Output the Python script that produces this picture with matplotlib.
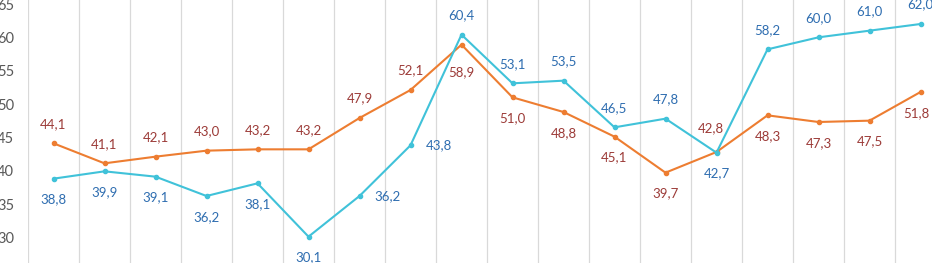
import matplotlib
matplotlib.use("Agg")
import matplotlib.pyplot as plt

plt.rcParams['font.family'] = ['Lato', 'DejaVu Sans']

# data
categories = list(range(18))
orange_vals = [44.1, 41.1, 42.1, 43.0, 43.2, 43.2, 47.9, 52.1, 58.9, 51.0,
               48.8, 45.1, 39.7, 42.8, 48.3, 47.3, 47.5, 51.8]
cyan_vals = [38.8, 39.9, 39.1, 36.2, 38.1, 30.1, 36.2, 43.8, 60.4, 53.1,
             53.5, 46.5, 47.8, 42.7, 58.2, 60.0, 61.0, 62.0]
y_ticks = [30, 35, 40, 45, 50, 55, 60, 65]

# label placement: 'a' above, 'b' below, 'r' right
orange_pos = ['a'] * 8 + ['b'] * 5 + ['a'] + ['b'] * 4
cyan_pos = ['b'] * 6 + ['r', 'r'] + ['a'] * 5 + ['b'] + ['a'] * 4

ORANGE = '#ED7D31'
CYAN = '#40C2D9'
ORANGE_TXT = '#9C3B38'
CYAN_TXT = '#2E6DB0'

W, H = 932, 263
fig = plt.figure(figsize=(W / 100, H / 100), dpi=100)

# plot area: left edge at x=28px, category width 51px; 6.667px per unit, 65 at y=4px
x0, cw = 28, 51
ppu = 100 / 15
ymin, ymax = 25, 70
top_px = 4 - (ymax - 65) * ppu
bot_px = 4 + (65 - ymin) * ppu
ax = fig.add_axes([x0 / W, (H - bot_px) / H, 18 * cw / W, (bot_px - top_px) / H])
ax.set_xlim(-0.5, 17.5)
ax.set_ylim(ymin, ymax)

for k in range(19):
    ax.axvline(k - 0.5, color='#D9D9D9', lw=0.9, zorder=0)

ax.plot(categories, orange_vals, color=ORANGE, lw=1.5, marker='o', ms=3, zorder=3)
ax.plot(categories, cyan_vals, color=CYAN, lw=1.5, marker='o', ms=3, zorder=4)


def put_labels(vals, pos, color):
    for i, (v, p) in enumerate(zip(vals, pos)):
        txt = f"{v:.1f}".replace('.', ',')
        if p == 'a':
            off, ha = (0, 14), 'center'
        elif p == 'b':
            off, ha = (0, -15), 'center'
        else:
            off, ha = (11, 0), 'left'
        ax.annotate(txt, (i, v), xytext=off, textcoords='offset points',
                    ha=ha, va='center', fontsize=9.5, color=color)


put_labels(orange_vals, orange_pos, ORANGE_TXT)
put_labels(cyan_vals, cyan_pos, CYAN_TXT)
# small tweaks where Excel nudged labels
for t in ax.texts:
    if t.get_text() == '58,9':
        t.xyann = (0, -20)
    if t.get_text() == '42,8':
        t.xyann = (-4, 17)
    if t.get_text() == '51,8':
        t.xyann = (-3, -15)

ax.set_yticks(y_ticks)
ax.set_yticklabels([str(t) for t in y_ticks])
ax.tick_params(axis='y', length=0, pad=10, labelsize=10.5, labelcolor='#595959')
ax.set_xticks([])
for s in ax.spines.values():
    s.set_visible(False)
ax.patch.set_alpha(0)

fig.savefig('out.png', dpi=100)
